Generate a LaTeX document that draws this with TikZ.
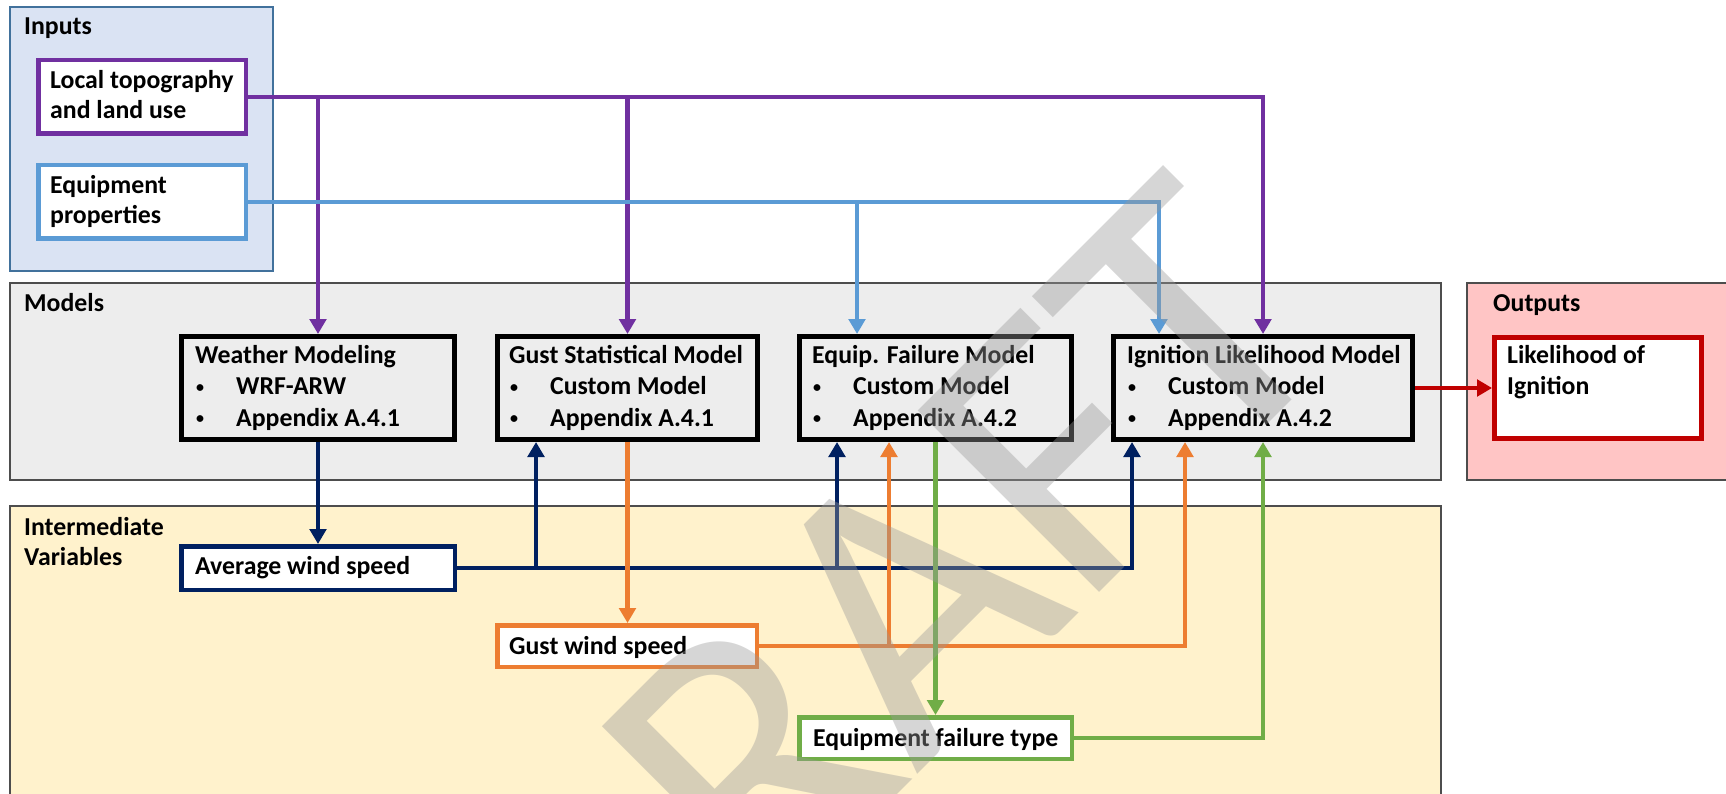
\documentclass[tikz,border=0pt]{standalone}
\usepackage{fontspec}
\setmainfont{Carlito}
\usetikzlibrary{arrows.meta}

\definecolor{cPurple}{HTML}{7030A0}
\definecolor{cBlue}{HTML}{5B9BD5}
\definecolor{cNavy}{HTML}{002060}
\definecolor{cOrange}{HTML}{ED7D31}
\definecolor{cGreen}{HTML}{70AD47}
\definecolor{cRed}{HTML}{C00000}
\definecolor{inFill}{HTML}{DAE3F3}
\definecolor{inEdge}{HTML}{41719C}
\definecolor{modFill}{HTML}{EDEDED}
\definecolor{outFill}{HTML}{FFC5C5}
\definecolor{midFill}{HTML}{FFF2CC}
\definecolor{panelEdge}{HTML}{4D4D4D}

% stacked lines whose baseline is the first line
\newcommand{\stack}[1]{\begin{tabular}[t]{@{}l@{}}#1\end{tabular}}
% bullet item with a hanging indent
\newcommand{\bul}[1]{\makebox[41pt][l]{\hspace{1pt}\raisebox{2.5pt}{\fontsize{16}{16}\selectfont\textbullet}}#1}

\begin{document}
\begin{tikzpicture}[x=1pt,y=-1pt,
  panel/.style={draw=#1, line width=1.5pt},
  box/.style={draw=#1, line width=4.5pt, fill=white, inner sep=0pt},
  modelbox/.style={draw=black, line width=5pt, fill=modFill, inner sep=0pt,
                   minimum width=#1, minimum height=103pt},
  lbl/.style={inner sep=0pt, anchor=base west,
              font=\bfseries\fontsize{25.8}{30}\selectfont},
  mlbl/.style={lbl, font=\bfseries\fontsize{25.8}{31.5}\selectfont},
  conn/.style={draw=#1, line width=4.25pt, -{Triangle[length=15pt,width=16.5pt]}}
]
\useasboundingbox (0,0) rectangle (1726,794);
\clip (0,0) rectangle (1726,794);
\fill[white] (0,0) rectangle (1726,794);

% ---- panels ----
\filldraw[panel=inEdge, fill=inFill] (10,7) rectangle (273,271);
\filldraw[panel=panelEdge, fill=modFill] (10,283) rectangle (1441,480);
\filldraw[panel=panelEdge, fill=outFill] (1467,283) rectangle (1745,480);
\filldraw[panel=panelEdge, fill=midFill] (10,506) rectangle (1441,820);

\node[lbl] (inputsLbl) at (24,35) {Inputs};
\node[lbl] (modelsLbl) at (24,312) {Models};
\node[lbl] (outputsLbl) at (1493,312) {Outputs};
\node[lbl] (midLbl) at (24,535) {\stack{Intermediate\\Variables}};

% ---- input boxes ----
\node[box=cPurple, minimum width=207.5pt, minimum height=73.5pt] (topo) at (142,97) {};
\node[box=cBlue, minimum width=207.5pt, minimum height=73.5pt] (eqp) at (142,202) {};
\node[lbl] (topoT) at (50,89) {\stack{Local topography\\and land use}};
\node[lbl] (eqpT) at (50,194) {\stack{Equipment\\properties}};

% ---- model boxes ----
\node[modelbox=273pt] (weather) at (318,388) {};
\node[modelbox=260pt] (gstat) at (627.5,388) {};
\node[modelbox=272pt] (eqfail) at (935.5,388) {};
\node[modelbox=299pt] (ign) at (1263,388) {};

\node[mlbl] (weatherT) at (195,363) {\stack{Weather Modeling\\\bul{WRF-ARW}\\\bul{Appendix A.4.1}}};
\node[mlbl] (gstatT) at (509,363) {\stack{Gust Statistical Model\\\bul{Custom Model}\\\bul{Appendix A.4.1}}};
\node[mlbl] (eqfailT) at (812,363) {\stack{Equip. Failure Model\\\bul{Custom Model}\\\bul{Appendix A.4.2}}};
\node[mlbl] (ignT) at (1127,363) {\stack{Ignition Likelihood Model\\\bul{Custom Model}\\\bul{Appendix A.4.2}}};

% ---- output box ----
\node[box=cRed, line width=5pt, minimum width=207pt, minimum height=101pt] (lik) at (1598,388) {};
\node[mlbl] (likT) at (1507,363) {\stack{Likelihood of\\Ignition}};

% ---- intermediate variables ----
\node[box=cNavy, minimum width=273.5pt, minimum height=43.5pt] (avg) at (318,568) {};
\node[box=cOrange, minimum width=259.5pt, minimum height=41.5pt] (gwind) at (627,646) {};
\node[box=cGreen, minimum width=272.5pt, minimum height=41.5pt] (eqtype) at (935.5,738) {};
\node[lbl] (avgT) at (195,574) {Average wind speed};
\node[lbl] (gwindT) at (509,654) {Gust wind speed};
\node[lbl] (eqtypeT) at (813,746) {Equipment failure type};

% ---- input connectors ----
\draw[conn=cPurple] (topo.east) -| (weather.north);
\draw[conn=cPurple] (topo.east) -| (gstat.north);
\draw[conn=cPurple] (topo.east) -| (ign.north);
\draw[conn=cBlue] (eqp.east) -| ([xshift=-78.5pt]eqfail.north);
\draw[conn=cBlue] (eqp.east) -| ([xshift=-104pt]ign.north);

% ---- average wind speed ----
\draw[conn=cNavy] (weather.south) -- (avg.north);
\draw[conn=cNavy] (avg.east) -| ([xshift=-91.5pt]gstat.south);
\draw[conn=cNavy] (avg.east) -| ([xshift=-98.5pt]eqfail.south);
\draw[conn=cNavy] (avg.east) -| ([xshift=-131pt]ign.south);

% ---- gust wind speed ----
\draw[conn=cOrange] (gstat.south) -- (gstat.south |- gwind.north);
\draw[conn=cOrange] (gwind.east) -| ([xshift=-46.5pt]eqfail.south);
\draw[conn=cOrange] (gwind.east) -| ([xshift=-78pt]ign.south);

% ---- equipment failure type ----
\draw[conn=cGreen] (eqfail.south) -- (eqfail.south |- eqtype.north);
\draw[conn=cGreen] (eqtype.east) -| (ign.south);

% ---- output ----
\draw[conn=cRed] (ign.east) -- (lik.west);

% ---- watermark ----
\node[rotate=45, anchor=base west, inner sep=0pt, text=black!40, opacity=0.4,
      font=\fontsize{400}{400}\selectfont] (wm) at (589,1103) {DRAFT};
\end{tikzpicture}
\end{document}
